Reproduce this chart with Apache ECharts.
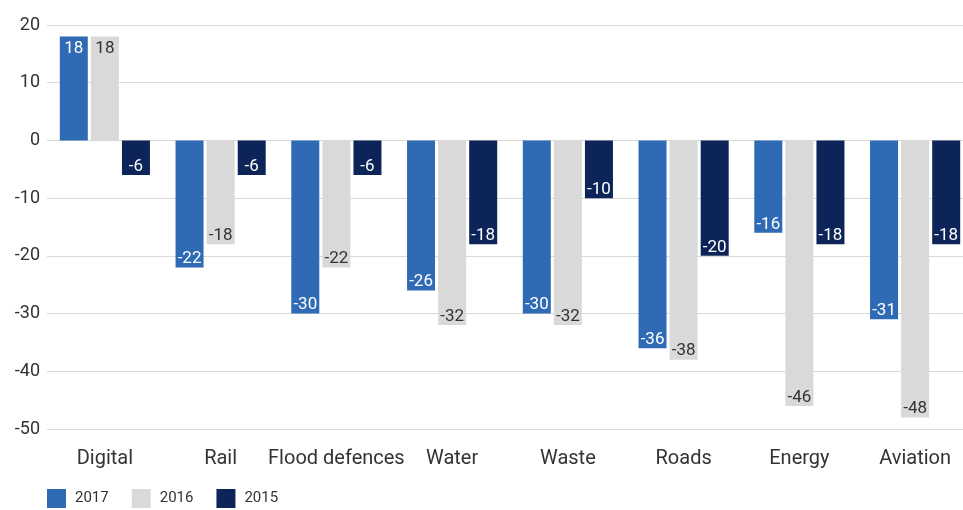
<!DOCTYPE html>
<html>
<head>
<meta charset="utf-8">
<script src="https://cdn.jsdelivr.net/npm/echarts@6/dist/echarts.min.js"></script>
<style>
  html, body { margin: 0; padding: 0; background: #fff; overflow: hidden; }
  #chart { width: 973px; height: 510px; }
</style>
</head>
<body>
<div id="chart"></div>
<script>
// Sectors on the horizontal axis
const categories = ['Digital', 'Rail', 'Flood defences', 'Water', 'Waste', 'Roads', 'Energy', 'Aviation'];
// Net balance per year
const values2017 = [18, -22, -30, -26, -30, -36, -16, -31];
const values2016 = [18, -18, -22, -32, -32, -38, -46, -48];
const values2015 = [-6, -6, -6, -18, -10, -20, -18, -18];
const yTicks = { min: -50, max: 20, interval: 10 };

const FONT = 'Roboto';

function makeSeries(name, values, color, labelColor) {
  return {
    name: name,
    type: 'bar',
    barWidth: 28,
    barGap: '11%',
    itemStyle: { color: color },
    data: values.map(v => ({
      value: v,
      label: {
        show: true,
        position: v >= 0 ? 'insideTop' : 'insideBottom',
        distance: v >= 0 ? 4 : 0,
        color: labelColor,
        fontFamily: FONT,
        fontSize: 17
      }
    }))
  };
}

const chart = echarts.init(document.getElementById('chart'));
chart.setOption({
  animation: false,
  textStyle: { fontFamily: FONT },
  grid: { left: 47, right: 0, top: 25, bottom: 81 },
  legend: {
    left: 42,
    top: 484,
    itemWidth: 19,
    itemHeight: 19,
    itemGap: 23,
    icon: 'rect',
    textStyle: { color: '#333', fontSize: 15, fontFamily: FONT, padding: [0, 0, 0, 4] },
    data: ['2017', '2016', '2015']
  },
  xAxis: {
    type: 'category',
    data: categories,
    position: 'bottom',
    axisLine: { show: false },
    axisTick: { show: false },
    axisLabel: { color: '#333', fontSize: 20, fontFamily: FONT, margin: 20, interval: 0 }
  },
  yAxis: {
    type: 'value',
    min: yTicks.min,
    max: yTicks.max,
    interval: yTicks.interval,
    axisLine: { show: false },
    axisTick: { show: false },
    axisLabel: { color: '#333', fontSize: 18, fontFamily: FONT, margin: 7 },
    splitLine: { lineStyle: { color: '#d9d9d9', width: 1 } }
  },
  series: [
    makeSeries('2017', values2017, '#2e6bb4', '#ffffff'),
    makeSeries('2016', values2016, '#d9d9d9', '#333333'),
    makeSeries('2015', values2015, '#0c2457', '#ffffff')
  ]
});
</script>
</body>
</html>
